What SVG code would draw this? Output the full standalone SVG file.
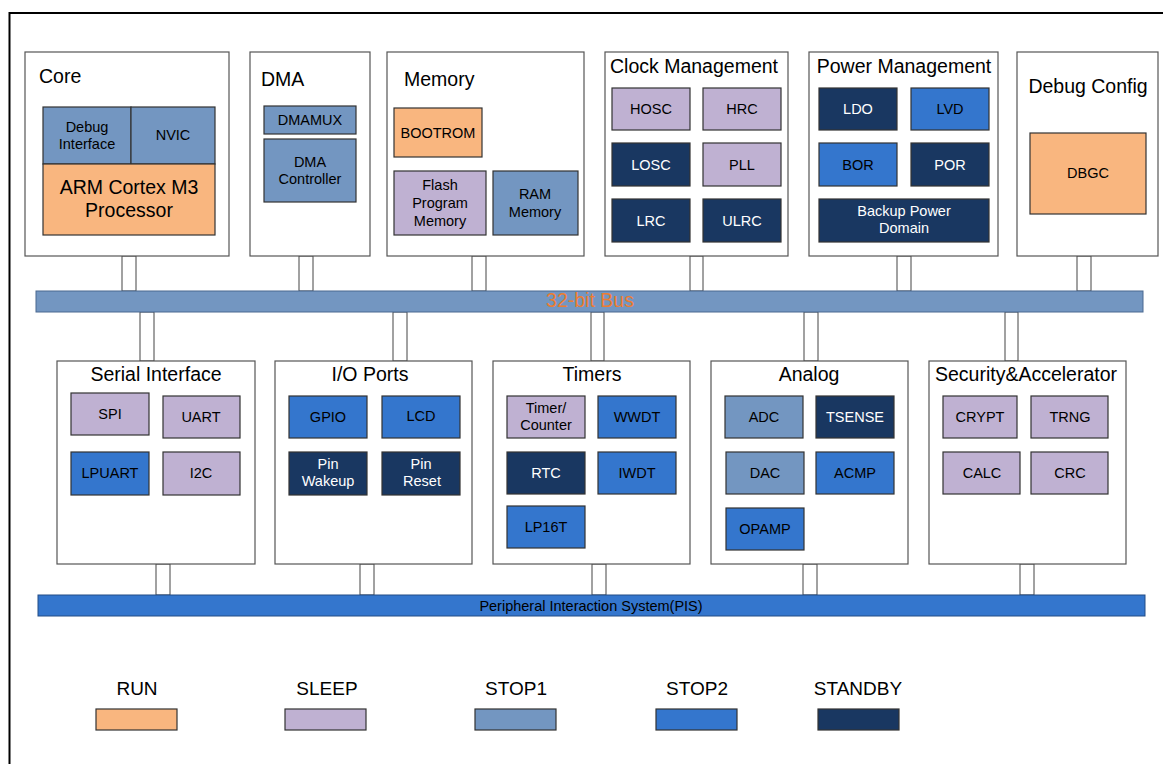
<svg xmlns="http://www.w3.org/2000/svg" width="1163" height="764" viewBox="0 0 1163 764">
<style>
text{font-family:"Liberation Sans",Arial,sans-serif;fill:#000}
.mod{fill:#fff;stroke:#555;stroke-width:1.2}
.chip{stroke:#333;stroke-width:1.2}
.run{fill:#F9B67F}
.sleep{fill:#BFB1D2}
.stop1{fill:#7396C1}
.stop2{fill:#3476CD}
.stb{fill:#193761}
.t{font-size:19.5px}
.tc{font-size:19.5px;text-anchor:middle}
.c{font-size:14.5px;text-anchor:middle}
.w{fill:#fff}
.con{fill:#fff;stroke:#444;stroke-width:1}
.lg{font-size:19px;text-anchor:middle}
</style>
<rect x="0" y="0" width="1163" height="764" fill="#fff"/>
<rect x="9.5" y="13" width="1170" height="770" fill="none" stroke="#000" stroke-width="2"/>

<g id="connectors">
  <rect class="con" x="122" y="256" width="14" height="35"/>
  <rect class="con" x="299" y="256" width="14" height="35"/>
  <rect class="con" x="472" y="256" width="14" height="35"/>
  <rect class="con" x="690" y="256" width="13" height="35"/>
  <rect class="con" x="897" y="256" width="14" height="35"/>
  <rect class="con" x="1077" y="256" width="14" height="35"/>
  <rect class="con" x="140" y="312" width="14" height="49"/>
  <rect class="con" x="393" y="312" width="14" height="49"/>
  <rect class="con" x="591" y="312" width="13" height="49"/>
  <rect class="con" x="804" y="312" width="14" height="49"/>
  <rect class="con" x="1005" y="312" width="13" height="49"/>
  <rect class="con" x="156" y="564" width="14" height="31"/>
  <rect class="con" x="360" y="564" width="14" height="31"/>
  <rect class="con" x="592" y="564" width="14" height="31"/>
  <rect class="con" x="803" y="564" width="14" height="31"/>
  <rect class="con" x="1020" y="564" width="14" height="31"/>
</g>

<g id="bus">
  <rect x="36" y="291" width="1107" height="21" fill="#7396C1" stroke="#4a6890" stroke-width="1"/>
  <text x="590" y="307" font-size="19.5" text-anchor="middle" style="fill:#ED7D31">32-bit Bus</text>
</g>

<g id="pis">
  <rect x="38" y="595" width="1107" height="21" fill="#3476CD" stroke="#234c85" stroke-width="1"/>
  <text x="591" y="611" font-size="14.5" text-anchor="middle" fill="#111">Peripheral Interaction System(PIS)</text>
</g>

<g id="core">
  <rect class="mod" x="25" y="52" width="204" height="204"/>
  <text class="t" x="39" y="83">Core</text>
  <rect class="chip stop1" x="43" y="107" width="88" height="57"/>
  <text class="c" x="87" y="132">Debug</text>
  <text class="c" x="87" y="149">Interface</text>
  <rect class="chip stop1" x="131" y="107" width="84" height="57"/>
  <text class="c" x="173" y="140">NVIC</text>
  <rect class="chip run" x="43" y="164" width="172" height="71"/>
  <text class="tc" x="129" y="194">ARM Cortex M3</text>
  <text class="tc" x="129" y="217">Processor</text>
</g>

<g id="dma">
  <rect class="mod" x="250" y="52" width="120" height="204"/>
  <text class="t" x="261" y="86">DMA</text>
  <rect class="chip stop1" x="264" y="106" width="92" height="28"/>
  <text class="c" x="310" y="125">DMAMUX</text>
  <rect class="chip stop1" x="264" y="139" width="92" height="63"/>
  <text class="c" x="310" y="167">DMA</text>
  <text class="c" x="310" y="184">Controller</text>
</g>

<g id="memory">
  <rect class="mod" x="387" y="52" width="197" height="204"/>
  <text class="t" x="404" y="86">Memory</text>
  <rect class="chip run" x="394" y="108" width="88" height="49"/>
  <text class="c" x="438" y="138">BOOTROM</text>
  <rect class="chip sleep" x="394" y="171" width="92" height="64"/>
  <text class="c" x="440" y="190">Flash</text>
  <text class="c" x="440" y="208">Program</text>
  <text class="c" x="440" y="226">Memory</text>
  <rect class="chip stop1" x="493" y="171" width="85" height="64"/>
  <text class="c" x="535" y="199">RAM</text>
  <text class="c" x="535" y="217">Memory</text>
</g>

<g id="clock">
  <rect class="mod" x="605" y="52" width="183" height="204"/>
  <text class="tc" x="694" y="73">Clock Management</text>
  <rect class="chip sleep" x="612" y="88" width="78" height="42"/>
  <text class="c" x="651" y="114">HOSC</text>
  <rect class="chip sleep" x="703" y="88" width="78" height="42"/>
  <text class="c" x="742" y="114">HRC</text>
  <rect class="chip stb" x="612" y="143" width="78" height="43"/>
  <text class="c w" x="651" y="170">LOSC</text>
  <rect class="chip sleep" x="703" y="143" width="78" height="43"/>
  <text class="c" x="742" y="170">PLL</text>
  <rect class="chip stb" x="612" y="199" width="78" height="43"/>
  <text class="c w" x="651" y="226">LRC</text>
  <rect class="chip stb" x="703" y="199" width="78" height="43"/>
  <text class="c w" x="742" y="226">ULRC</text>
</g>

<g id="power">
  <rect class="mod" x="809" y="52" width="189" height="204"/>
  <text class="tc" x="904" y="73">Power Management</text>
  <rect class="chip stb" x="819" y="88" width="78" height="42"/>
  <text class="c w" x="858" y="114">LDO</text>
  <rect class="chip stop2" x="911" y="88" width="78" height="42"/>
  <text class="c" x="950" y="114">LVD</text>
  <rect class="chip stop2" x="819" y="143" width="78" height="43"/>
  <text class="c" x="858" y="170">BOR</text>
  <rect class="chip stb" x="911" y="143" width="78" height="43"/>
  <text class="c w" x="950" y="170">POR</text>
  <rect class="chip stb" x="819" y="199" width="170" height="43"/>
  <text class="c w" x="904" y="216">Backup Power</text>
  <text class="c w" x="904" y="233">Domain</text>
</g>

<g id="debug">
  <rect class="mod" x="1017" y="52" width="141" height="204"/>
  <text class="tc" x="1088" y="93">Debug Config</text>
  <rect class="chip run" x="1030" y="133" width="116" height="81"/>
  <text class="c" x="1088" y="178">DBGC</text>
</g>

<g id="serial">
  <rect class="mod" x="57" y="361" width="198" height="203"/>
  <text class="tc" x="156" y="381">Serial Interface</text>
  <rect class="chip sleep" x="71" y="393" width="78" height="42"/>
  <text class="c" x="110" y="419">SPI</text>
  <rect class="chip sleep" x="163" y="396" width="77" height="42"/>
  <text class="c" x="201" y="422">UART</text>
  <rect class="chip stop2" x="71" y="452" width="78" height="43"/>
  <text class="c" x="110" y="478">LPUART</text>
  <rect class="chip sleep" x="163" y="452" width="77" height="43"/>
  <text class="c" x="201" y="478">I2C</text>
</g>

<g id="io">
  <rect class="mod" x="275" y="361" width="197" height="203"/>
  <text class="tc" x="370" y="381">I/O Ports</text>
  <rect class="chip stop2" x="289" y="396" width="78" height="42"/>
  <text class="c" x="328" y="422">GPIO</text>
  <rect class="chip stop2" x="382" y="396" width="78" height="42"/>
  <text class="c" x="421" y="421">LCD</text>
  <rect class="chip stb" x="289" y="452" width="78" height="43"/>
  <text class="c w" x="328" y="469">Pin</text>
  <text class="c w" x="328" y="486">Wakeup</text>
  <rect class="chip stb" x="382" y="452" width="78" height="43"/>
  <text class="c w" x="421" y="469">Pin</text>
  <text class="c w" x="422" y="486">Reset</text>
</g>

<g id="timers">
  <rect class="mod" x="493" y="361" width="197" height="203"/>
  <text class="tc" x="592" y="381">Timers</text>
  <rect class="chip sleep" x="507" y="396" width="78" height="42"/>
  <text class="c" x="546" y="413">Timer/</text>
  <text class="c" x="546" y="430">Counter</text>
  <rect class="chip stop2" x="598" y="396" width="78" height="42"/>
  <text class="c" x="637" y="422">WWDT</text>
  <rect class="chip stb" x="507" y="452" width="78" height="42"/>
  <text class="c w" x="546" y="478">RTC</text>
  <rect class="chip stop2" x="598" y="452" width="78" height="42"/>
  <text class="c" x="637" y="478">IWDT</text>
  <rect class="chip stop2" x="507" y="506" width="78" height="42"/>
  <text class="c" x="546" y="532">LP16T</text>
</g>

<g id="analog">
  <rect class="mod" x="711" y="361" width="197" height="203"/>
  <text class="tc" x="809" y="381">Analog</text>
  <rect class="chip stop1" x="725" y="396" width="78" height="42"/>
  <text class="c" x="764" y="422">ADC</text>
  <rect class="chip stb" x="816" y="396" width="78" height="42"/>
  <text class="c w" x="855" y="422">TSENSE</text>
  <rect class="chip stop1" x="726" y="452" width="78" height="42"/>
  <text class="c" x="765" y="478">DAC</text>
  <rect class="chip stop2" x="816" y="452" width="78" height="42"/>
  <text class="c" x="855" y="478">ACMP</text>
  <rect class="chip stop2" x="726" y="508" width="78" height="42"/>
  <text class="c" x="765" y="534">OPAMP</text>
</g>

<g id="security">
  <rect class="mod" x="929" y="361" width="197" height="203"/>
  <text class="tc" x="1026" y="381">Security&amp;Accelerator</text>
  <rect class="chip sleep" x="943" y="396" width="74" height="42"/>
  <text class="c" x="980" y="422">CRYPT</text>
  <rect class="chip sleep" x="1031" y="396" width="77" height="42"/>
  <text class="c" x="1070" y="422">TRNG</text>
  <rect class="chip sleep" x="943" y="452" width="77" height="42"/>
  <text class="c" x="982" y="478">CALC</text>
  <rect class="chip sleep" x="1031" y="452" width="77" height="42"/>
  <text class="c" x="1070" y="478">CRC</text>
</g>

<g id="legend">
  <text class="lg" x="137" y="695">RUN</text>
  <rect class="chip run" x="96" y="709" width="81" height="21"/>
  <text class="lg" x="327" y="695">SLEEP</text>
  <rect class="chip sleep" x="285" y="709" width="81" height="21"/>
  <text class="lg" x="516" y="695">STOP1</text>
  <rect class="chip stop1" x="475" y="709" width="81" height="21"/>
  <text class="lg" x="697" y="695">STOP2</text>
  <rect class="chip stop2" x="656" y="709" width="81" height="21"/>
  <text class="lg" x="858" y="695">STANDBY</text>
  <rect class="chip stb" x="818" y="709" width="81" height="21"/>
</g>
</svg>
